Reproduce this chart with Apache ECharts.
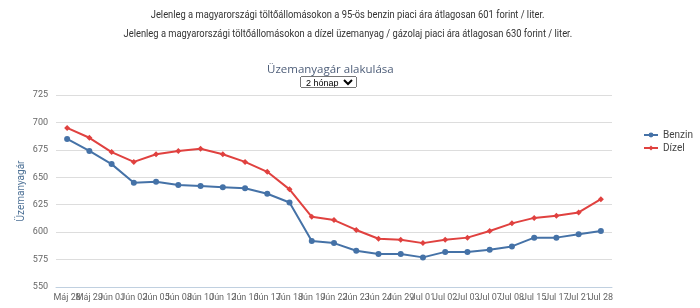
<!DOCTYPE html>
<html>
<head>
<meta charset="utf-8">
<script src="https://cdn.jsdelivr.net/npm/echarts@6/dist/echarts.min.js"></script>
<style>
  body { margin: 0; background: #fff; font-family: Roboto, "Noto Sans", sans-serif; }
  #wrap { position: relative; width: 700px; height: 308px; overflow: hidden; }
  #chart { position: absolute; left: 0; top: 0; width: 700px; height: 308px; }
  .info { position: absolute; left: 0; width: 696px; text-align: center; font-size: 11px; color: #333; }
  .info span { display: inline-block; transform: scaleX(0.85); white-space: nowrap; }
  #period { position: absolute; left: 300px; top: 76px; font-size: 9px; height: 12px; padding: 0 1px; z-index: 2; }
</style>
</head>
<body>
<div id="wrap">
  <div id="chart"></div>
  <div class="info" style="top:8px"><span>Jelenleg a magyarországi töltőállomásokon a 95-ös benzin piaci ára átlagosan 601 forint / liter.</span></div>
  <div class="info" style="top:27px"><span>Jelenleg a magyarországi töltőállomásokon a dízel üzemanyag / gázolaj piaci ára átlagosan 630 forint / liter.</span></div>
  <select id="period"><option>2 hónap</option></select>
</div>
<script>
const dates = ['Máj 28', 'Máj 29', 'Jún 01', 'Jún 02', 'Jún 05', 'Jún 08', 'Jún 10', 'Jún 12', 'Jún 16', 'Jún 17', 'Jún 18', 'Jún 19', 'Jún 22', 'Jún 23', 'Jún 24', 'Jún 29', 'Jul 01', 'Jul 02', 'Jul 03', 'Jul 07', 'Jul 08', 'Jul 15', 'Jul 17', 'Jul 21', 'Jul 28'];
const benzin = [685, 674, 662, 645, 646, 643, 642, 641, 640, 635, 627, 592, 590, 583, 580, 580, 577, 582, 582, 584, 587, 595, 595, 598, 601];
const dizel = [695, 686, 673, 664, 671, 674, 676, 671, 664, 655, 639, 614, 611, 602, 594, 593, 590, 593, 595, 601, 608, 613, 615, 618, 630];

const chart = echarts.init(document.getElementById('chart'));
chart.setOption({
  animation: false,
  textStyle: { fontFamily: 'Roboto, "Noto Sans", sans-serif' },
  title: {
    text: 'Üzemanyagár alakulása',
    left: 262,
    top: 59,
    textStyle: { fontSize: 11.5, fontWeight: 'normal', color: '#4d5d78', fontFamily: '"Open Sans", sans-serif' }
  },
  legend: {
    orient: 'vertical',
    left: 638,
    top: 125,
    itemGap: 3,
    itemWidth: 14,
    itemHeight: 6,
    textStyle: { fontSize: 10, color: '#444' },
    data: ['Benzin', 'Dízel']
  },
  grid: { left: 56, right: 88, top: 95, bottom: 21 },
  xAxis: {
    type: 'category',
    data: dates,
    axisLine: { lineStyle: { color: '#c0d0e0' } },
    axisTick: { lineStyle: { color: '#c0d0e0' } },
    axisLabel: { interval: 0, fontSize: 9, color: '#666', margin: 6 }
  },
  yAxis: {
    type: 'value',
    min: 550,
    max: 725,
    interval: 25,
    name: 'Üzemanyagár',
    nameLocation: 'middle',
    nameRotate: 90,
    nameGap: 30,
    nameMoveOverlap: false,
    nameTextStyle: { fontSize: 10, color: '#4d7196' },
    axisLine: { show: false },
    axisTick: { show: false },
    axisLabel: { fontSize: 9, color: '#666', margin: 8 },
    splitLine: { lineStyle: { color: '#dddddd' } }
  },
  series: [
    {
      name: 'Benzin',
      type: 'line',
      data: benzin,
      symbol: 'circle',
      symbolSize: 6,
      color: '#4572A7',
      lineStyle: { width: 2 }
    },
    {
      name: 'Dízel',
      type: 'line',
      data: dizel,
      symbol: 'diamond',
      symbolSize: 6,
      color: '#e0413f',
      lineStyle: { width: 2 }
    }
  ]
});
</script>
</body>
</html>
